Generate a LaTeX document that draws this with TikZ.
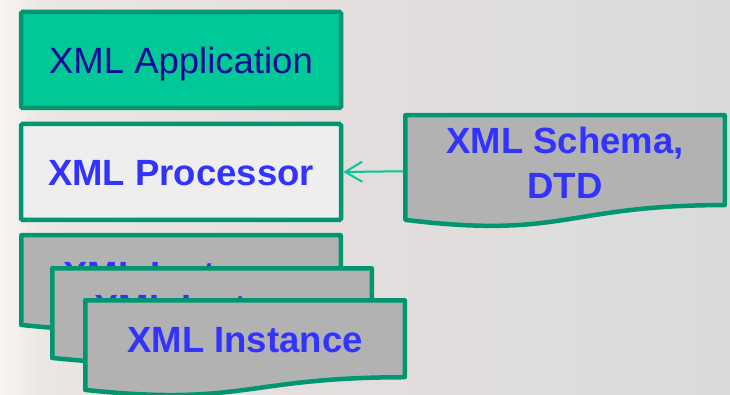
\documentclass[tikz,border=0pt]{standalone}
\usepackage{fontspec}
\setmainfont{Liberation Sans}
\usetikzlibrary{arrows.meta}

\definecolor{bgA}{RGB}{248,246,242}
\definecolor{bgB}{RGB}{234,230,228}
\definecolor{bgC}{RGB}{227,222,221}
\definecolor{bgD}{RGB}{221,220,220}
\definecolor{bgE}{RGB}{218,218,218}
\definecolor{rim}{RGB}{0,150,112}
\definecolor{appfill}{RGB}{0,200,150}
\definecolor{procfill}{RGB}{238,238,239}
\definecolor{docfill}{RGB}{178,178,178}
\definecolor{navytext}{RGB}{16,10,150}
\definecolor{bluetext}{RGB}{51,51,255}
\definecolor{feedline}{RGB}{0,200,150}

% soft horizontal backdrop (middle 25bp..75bp spans the page)
\pgfdeclarehorizontalshading{slidebg}{100bp}{color(0bp)=(bgA); color(25bp)=(bgA);
  color(28bp)=(bgB); color(49bp)=(bgC); color(66bp)=(bgD); color(75bp)=(bgE); color(100bp)=(bgE)}

\tikzset{
  layerbox/.style={draw=rim, line width=4.5pt, rounded corners=1.5pt,
    minimum width=320pt, minimum height=96pt, inner sep=0pt,
    text height=26.2pt, text depth=0pt},
  docline/.style={draw=rim, fill=docfill, line width=4.5pt, line join=round},
  doctext/.style={text=bluetext, font=\fontsize{36.5}{45}\selectfont\bfseries, align=center, inner sep=0pt},
  feed/.style={draw=feedline, line width=2pt, -{Straight Barb[length=17pt,width=20pt]}}
}

% document-shaped box: name, left, top, width, height, label
\newcommand\docbox[6]{%
  \node[inner sep=0pt, outer sep=0pt, minimum width=#4pt, minimum height=#5pt,
        anchor=north west] (#1) at (#2,#3) {};
  \path[docline] (#2,#3) -- ({#2+#4},#3) -- ({#2+#4},{#3+0.802*#5})
    .. controls ({#2+0.5*#4},{#3+0.802*#5}) and ({#2+0.5*#4},{#3+1.1075*#5})
    .. (#2,{#3+0.934*#5}) -- cycle;
  \node[doctext] (#1-label) at ({#2+0.5*#4},{#3+0.42*#5}) {#6};
}

\begin{document}
\begin{tikzpicture}[x=1pt,y=-1pt]
  \useasboundingbox (0,0) rectangle (730,395);
  \shade[shading=slidebg] (0,0) rectangle (730,395);

  % stacked layers on the left
  \node[layerbox, fill=appfill, text=navytext, font=\fontsize{36.5}{45}\selectfont]
    (app) at (181,60) {XML Application};
  \node[layerbox, fill=procfill, text=bluetext, font=\fontsize{36.5}{45}\selectfont\bfseries]
    (proc) at (181,172) {XML Processor};

  % pile of instance documents
  \docbox{inst1}{21.25}{235.25}{319.5}{96}{XML Instance}
  \docbox{inst2}{52.25}{268.25}{319.5}{96}{XML Instance}
  \docbox{inst3}{85.25}{300.25}{319.5}{96}{XML Instance}

  % schema document feeding the processor
  \docbox{schema}{405.25}{115.25}{319.5}{112}{XML Schema,\\DTD}
  \draw[feed] ([xshift=-2.25pt]schema.west) -- (proc.east);
\end{tikzpicture}
\end{document}
